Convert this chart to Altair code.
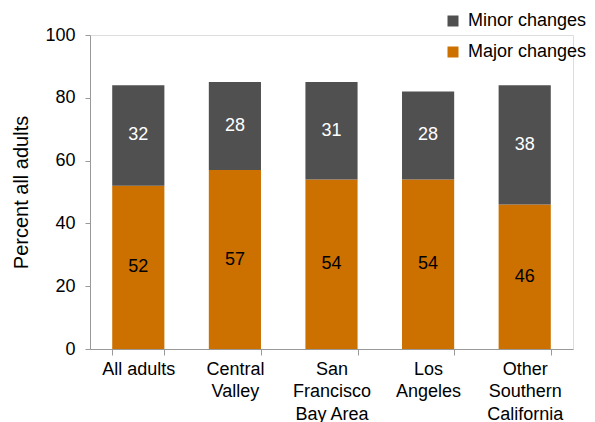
import altair as alt
import pandas as pd

categories = ["All adults", "Central|Valley", "San|Francisco|Bay Area", "Los|Angeles", "Other|Southern|California"]
major = [52, 57, 54, 54, 46]
minor = [32, 28, 31, 28, 38]
series = ["Major changes", "Minor changes"]
colors = ["#CC7000", "#505050"]

rows = []
for c, ma, mi in zip(categories, major, minor):
    rows.append({"cat": c, "series": "Major changes", "value": ma, "rank": 0, "mid": ma / 2, "tc": "black"})
    rows.append({"cat": c, "series": "Minor changes", "value": mi, "rank": 1, "mid": ma + mi / 2, "tc": "white"})
df = pd.DataFrame(rows)

font = "Liberation Sans"
fs = 18

x = alt.X("cat:N", sort=categories, title=None,
          scale=alt.Scale(paddingInner=0.46, paddingOuter=0.23),
          axis=alt.Axis(labelExpr="split(datum.label, '|')", labelAngle=0, labelFontSize=fs,
                        labelColor="black", labelFont=font, labelLineHeight=22.5, labelPadding=5,
                        tickBand="extent", tickColor="#999999", domainColor="#999999",
                        tickSize=6, labelBaseline="top"))

bars = alt.Chart(df).mark_bar().encode(
    x=x,
    y=alt.Y("value:Q", stack="zero", scale=alt.Scale(domain=[0, 100]),
            title="Percent all adults",
            axis=alt.Axis(values=[0, 20, 40, 60, 80, 100], grid=False, labelFontSize=fs,
                          labelFont=font, labelColor="black", titleFont=font, titleFontSize=20,
                          titleFontWeight="normal", titleColor="black", titlePadding=13,
                          tickColor="#999999", domainColor="#999999", tickSize=5, labelPadding=10)),
    color=alt.Color("series:N", scale=alt.Scale(domain=["Minor changes", "Major changes"],
                                                range=[colors[1], colors[0]]),
                    legend=alt.Legend(title=None, orient="none", legendX=354, legendY=-23,
                                      symbolType="square", symbolSize=121, labelFontSize=fs,
                                      labelFont=font, labelColor="black", rowPadding=13,
                                      symbolStrokeWidth=0, labelOffset=6, labelLimit=300)),
    order=alt.Order("rank:Q"),
)

text = alt.Chart(df).mark_text(fontSize=fs, font=font).encode(
    x=alt.X("cat:N", sort=categories),
    y=alt.Y("mid:Q"),
    text=alt.Text("value:Q"),
    color=alt.Color("tc:N", scale=None),
)

chart = (bars + text).properties(
    width=483, height=314,
    autosize=alt.AutoSizeParams(type="none"),
    padding={"left": 82, "top": 27, "right": 14, "bottom": 73},
).configure_view(stroke=None).configure(background="white")

chart.save("out.html", embed_options={"renderer": "svg", "actions": False})
